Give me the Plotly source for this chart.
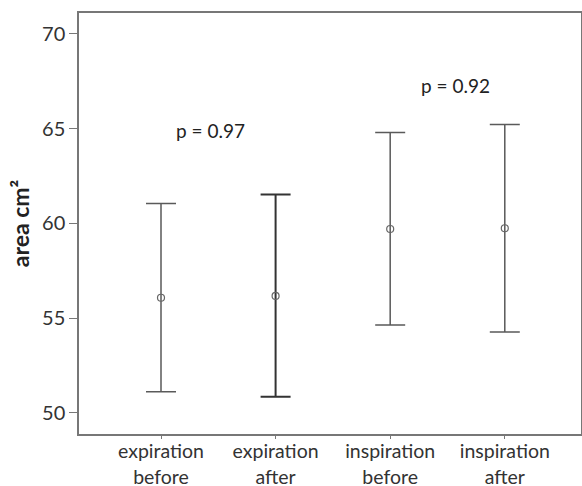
import plotly.graph_objects as go

categories = ["expiration<br>before", "expiration<br>after", "inspiration<br>before", "inspiration<br>after"]
means = [56.07, 56.17, 59.70, 59.74]
upper = [61.04, 61.52, 64.79, 65.21]
lower = [51.11, 50.84, 54.63, 54.27]
p_labels = ["p = 0.97", "p = 0.92"]
p_x = [0.436, 2.566]
p_y = [64.91, 67.28]
y_ticks = [50, 55, 60, 65, 70]

fig = go.Figure()
idx = list(range(len(categories)))
for i in idx:
    dark = (i == 1)
    col = "#333333" if dark else "#5a5a5a"
    fig.add_trace(go.Scatter(
        x=[i], y=[means[i]], mode="markers",
        marker=dict(symbol="circle-open", size=7, color="#666666", line=dict(width=1.2)),
        error_y=dict(type="data", symmetric=False,
                     array=[upper[i] - means[i]], arrayminus=[means[i] - lower[i]],
                     color=col, thickness=2.0 if dark else 1.5, width=15),
        showlegend=False, hoverinfo="skip"))

for t, xx, yy in zip(p_labels, p_x, p_y):
    fig.add_annotation(x=xx, y=yy, xref="x", yref="y", text=t, showarrow=False,
                       font=dict(size=19, color="#222222", family="Lato"))

fig.update_layout(
    width=582, height=486,
    margin=dict(l=79, r=1, t=13, b=52),
    paper_bgcolor="white", plot_bgcolor="white",
    font=dict(family="Lato", size=19, color="#333333"),
    xaxis=dict(range=[-0.7155, 3.665], tickmode="array", tickvals=idx, ticktext=categories,
               showline=True, linecolor="#777777", linewidth=1.5, mirror=True,
               ticks="outside", ticklen=3, tickcolor="#777777", showgrid=False, zeroline=False,
               automargin=False, ticklabelstandoff=-4, tickfont=dict(size=19.5, color="#333333")),
    yaxis=dict(range=[48.88, 71.10], tickmode="array", tickvals=y_ticks,
               showline=True, linecolor="#777777", linewidth=1.5, mirror=True,
               ticks="outside", ticklen=8, tickcolor="#777777", showgrid=False, zeroline=False,
               automargin=False, tickfont=dict(size=20, color="#333333"),
               title=dict(text="<b>area cm²</b>", font=dict(size=23, color="#222222"), standoff=6)),
)

fig.write_html("out.html", config={"displayModeBar": False},
               post_script="document.body.style.margin='0';")
